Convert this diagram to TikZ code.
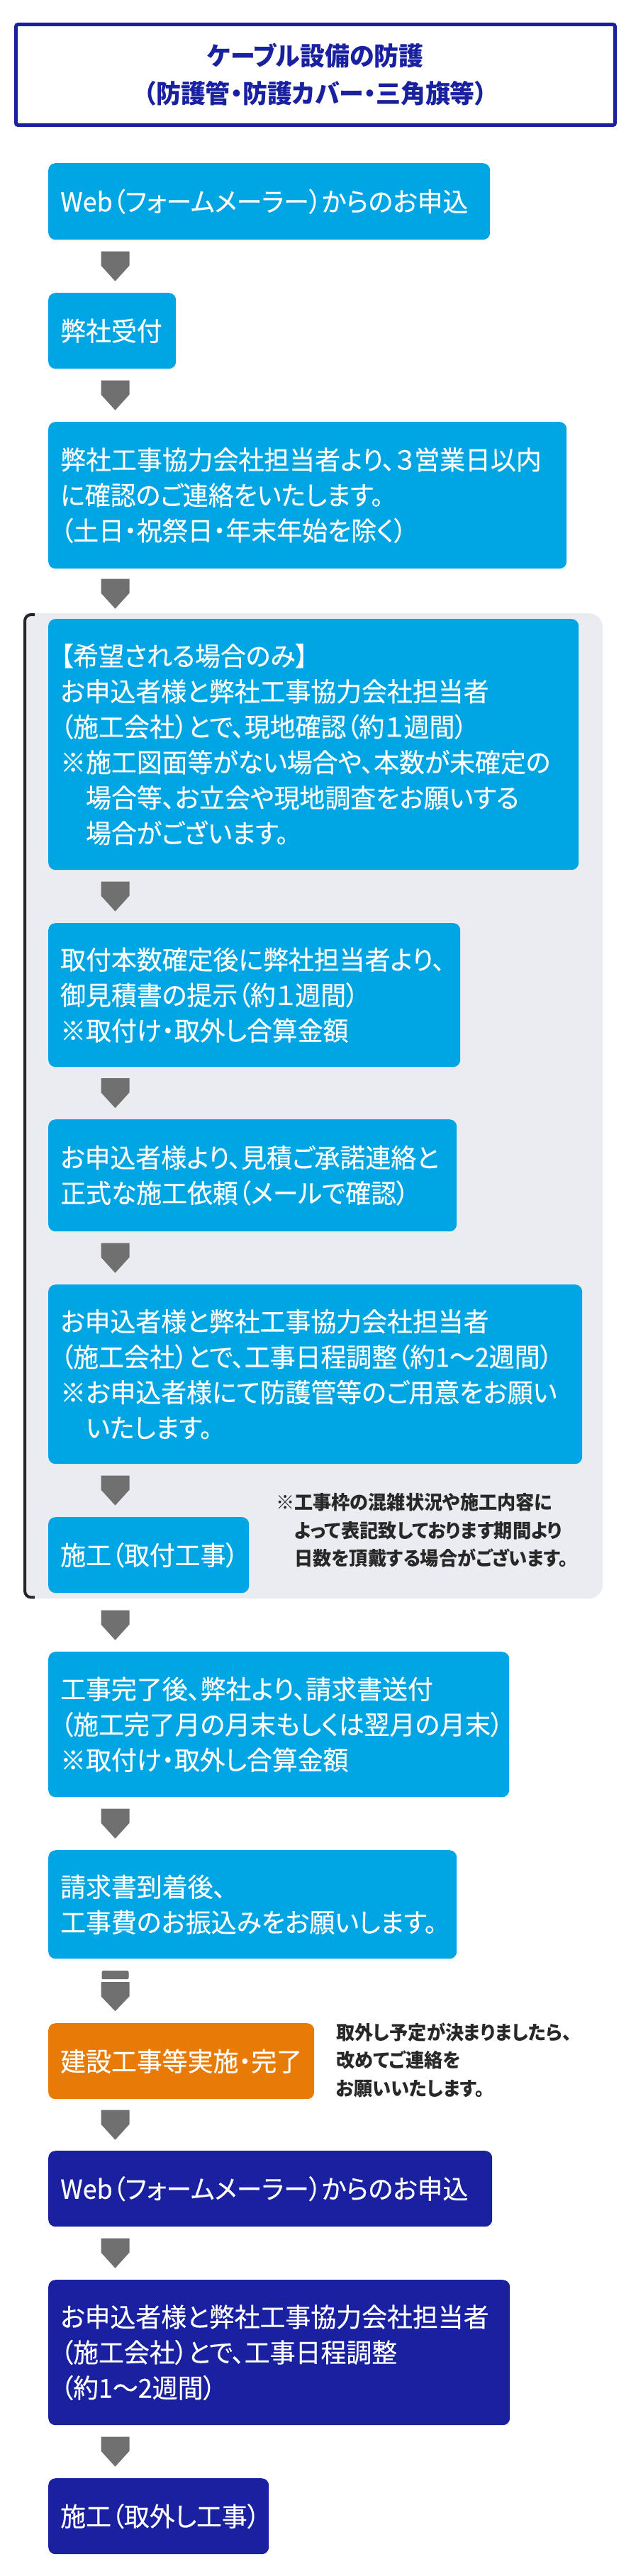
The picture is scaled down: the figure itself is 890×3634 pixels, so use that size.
\documentclass[tikz,border=0pt]{standalone}
\usepackage{fontspec}
\newfontfamily\jp[RawFeature=+palt, FakeStretch=0.97]{Noto Sans CJK JP}
\newfontfamily\jpm[RawFeature=+palt, FakeStretch=0.97, FakeBold=0.3]{Noto Sans CJK JP}
\usetikzlibrary{calc}
\definecolor{cyanbox}{RGB}{0,165,228}
\definecolor{navy}{RGB}{26,33,160}
\definecolor{orangebox}{RGB}{232,122,6}
\definecolor{arrowgray}{RGB}{112,112,112}
\definecolor{panelgray}{RGB}{235,236,242}
\definecolor{notetext}{RGB}{40,40,40}
\tikzset{
  box/.style={rounded corners=10pt, anchor=north west, inner xsep=17pt, inner ysep=0pt,
    align=left, text=white, font=\jpm\fontsize{37}{50}\selectfont},
  cyanb/.style={box, fill=cyanbox},
  navyb/.style={box, fill=navy},
  orangeb/.style={box, fill=orangebox},
  note/.style={anchor=west, align=left, text=notetext, inner sep=0pt,
    font=\jp\bfseries\fontsize{27}{39.5}\selectfont},
  titlebox/.style={draw=navy, line width=5pt, rounded corners=3pt, fill=white,
    minimum width=845pt, minimum height=142pt, align=center, text=navy,
    font=\jp\bfseries\fontsize{36}{53}\selectfont},
  pics/downarrow/.style={code={
    \fill[arrowgray] (-20,-21) -- (20,-21) -- (20,-1) -- (0,21) -- (-20,-1) -- cycle;}},
  pics/stoparrow/.style={code={
    \fill[arrowgray, rounded corners=2pt] (-19,-28.5) rectangle (19,-16.5);
    \fill[arrowgray] (-20,-12.5) -- (20,-12.5) -- (20,7.5) -- (0,28.5) -- (-20,7.5) -- cycle;}},
}
\begin{document}
\begin{tikzpicture}[x=1pt, y=-1pt]
\useasboundingbox (0,0) rectangle (890,3634);
\fill[white] (0,0) rectangle (890,3634);
\coordinate (ax) at (162.5,0);

% title
\node[titlebox] (title) at (445,105.5) {ケーブル設備の防護\\（防護管・防護カバー・三角旗等）};

% panel
\node[fill=panelgray, rounded corners=20pt, anchor=north west, minimum width=815pt,
  minimum height=1390pt, inner sep=0pt] (panel) at (35,865) {};
\fill[panelgray] (panel.north west) rectangle ($(panel.south west)+(60,0)$);
\draw[line width=4pt, rounded corners=9pt, color=black!85]
  ($(panel.north west)+(14,2)$) -- ($(panel.north west)+(0,2)$)
  -- ($(panel.south west)+(0,-2)$) -- ($(panel.south west)+(14,-2)$);

% boxes
\node[cyanb, text width=589pt, minimum height=108pt] (b1) at (68,230)
  {Web（フォームメーラー）からのお申込};
\node[cyanb, text width=146pt, minimum height=107pt] (b2) at (68,413) {弊社受付};
\node[cyanb, text width=697pt, minimum height=207pt] (b3) at (68,595)
  {弊社工事協力会社担当者より、３営業日以内\\に確認のご連絡をいたします。\\（土日・祝祭日・年末年始を除く）};
\node[cyanb, text width=714pt, minimum height=354pt] (b4) at (68,873)
  {【希望される場合のみ】\\お申込者様と弊社工事協力会社担当者\\（施工会社）とで、現地確認（約１週間）\\※施工図面等がない場合や、本数が未確定の\\\phantom{※}場合等、お立会や現地調査をお願いする\\\phantom{※}場合がございます。};
\node[cyanb, text width=547pt, minimum height=203pt] (b5) at (68,1302)
  {取付本数確定後に弊社担当者より、\\御見積書の提示（約１週間）\\※取付け・取外し合算金額};
\node[cyanb, text width=542pt, minimum height=158pt] (b6) at (68,1579)
  {お申込者様より、見積ご承諾連絡と\\正式な施工依頼（メールで確認）};
\node[cyanb, text width=719pt, minimum height=253pt] (b7) at (68,1812)
  {お申込者様と弊社工事協力会社担当者\\（施工会社）とで、工事日程調整（約1～2週間）\\※お申込者様にて防護管等のご用意をお願い\\\phantom{※}いたします。};
\node[cyanb, text width=249pt, minimum height=107pt] (b8) at (68,2140) {施工（取付工事）};
\node[note] (n1) at (389,2159)
  {※工事枠の混雑状況や施工内容に\\\phantom{※}よって表記致しております期間より\\\phantom{※}日数を頂戴する場合がございます。};
\node[cyanb, text width=616pt, minimum height=205pt] (b9) at (68,2330)
  {工事完了後、弊社より、請求書送付\\（施工完了月の月末もしくは翌月の月末）\\※取付け・取外し合算金額};
\node[cyanb, text width=542pt, minimum height=153pt] (b10) at (68,2610)
  {請求書到着後、\\工事費のお振込みをお願いします。};
\node[orangeb, text width=341pt, minimum height=107pt] (b11) at (68,2854) {建設工事等実施・完了};
\node[note] (n2) at (474,2906)
  {取外し予定が決まりましたら、\\改めてご連絡を\\お願いいたします。};
\node[navyb, text width=592pt, minimum height=107pt] (b12) at (68,3034)
  {Web（フォームメーラー）からのお申込};
\node[navyb, text width=617pt, minimum height=205pt] (b13) at (68,3216)
  {お申込者様と弊社工事協力会社担当者\\（施工会社）とで、工事日程調整\\（約1～2週間）};
\node[navyb, text width=277pt, minimum height=107pt] (b14) at (68,3496) {施工（取外し工事）};

% connectors
\pic at ($(b1.south -| ax)!0.5!(b2.north -| ax)$) {downarrow};
\pic at ($(b2.south -| ax)!0.5!(b3.north -| ax)$) {downarrow};
\pic at ($(b3.south -| ax)!0.5!(b4.north -| ax)$) {downarrow};
\pic at ($(b4.south -| ax)!0.5!(b5.north -| ax)$) {downarrow};
\pic at ($(b5.south -| ax)!0.5!(b6.north -| ax)$) {downarrow};
\pic at ($(b6.south -| ax)!0.5!(b7.north -| ax)$) {downarrow};
\pic at ($(b7.south -| ax)!0.5!(b8.north -| ax)$) {downarrow};
\pic at ($(panel.south -| ax)!0.5!(b9.north -| ax)$) {downarrow};
\pic at ($(b9.south -| ax)!0.5!(b10.north -| ax)$) {downarrow};
\pic at ($(b10.south -| ax)!0.5!(b11.north -| ax)$) {stoparrow};
\pic at ($(b11.south -| ax)!0.5!(b12.north -| ax)$) {downarrow};
\pic at ($(b12.south -| ax)!0.5!(b13.north -| ax)$) {downarrow};
\pic at ($(b13.south -| ax)!0.5!(b14.north -| ax)$) {downarrow};
\end{tikzpicture}
\end{document}
